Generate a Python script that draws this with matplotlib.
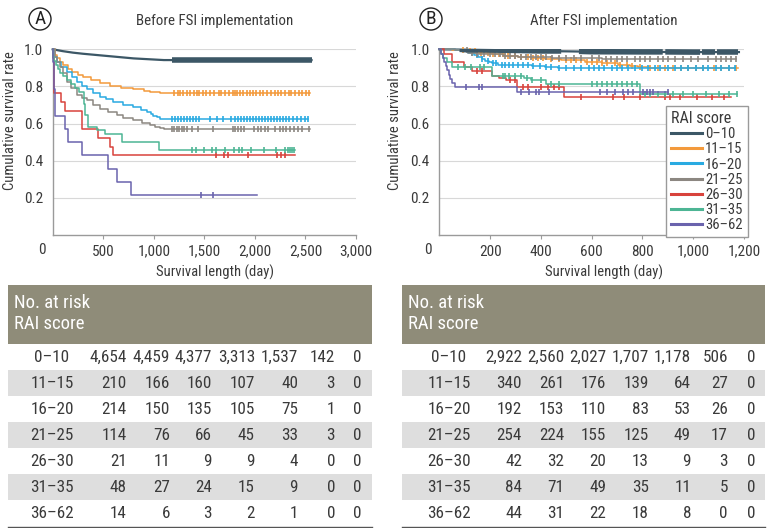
#!/usr/bin/env python3
"""
Kaplan-Meier curves by RAI score, before / after FSI implementation
"""

import matplotlib
matplotlib.use('Agg')
import matplotlib.pyplot as plt
from matplotlib import font_manager
from matplotlib.patches import Rectangle, Circle
from matplotlib.lines import Line2D

# narrow Helvetica-like face, first one that is installed
installed = {f.name for f in font_manager.fontManager.ttflist}
narrow = next((n for n in ['Liberation Sans Narrow', 'Roboto Condensed', 'Archivo Narrow', 'PT Sans Narrow',
                           'Fira Sans Condensed', 'IBM Plex Sans Condensed', 'Sofia Sans Condensed',
                           'Open Sans Condensed'] if n in installed), 'DejaVu Sans')
plt.rcParams['font.family'] = [narrow, 'DejaVu Sans']

# ---- data ----
groups = ['0–10', '11–15', '16–20', '21–25', '26–30', '31–35', '36–62']
colors = ['#3c5766', '#f39a3c', '#29aae1', '#8c8781', '#d8423c', '#4db594', '#6a63ad']

# Panel A: before FSI (time in days, survival)
a_t = [
    [0, 100, 200, 300, 400, 500, 600, 700, 800, 900, 1000, 1100, 2560],
    [0, 20, 40, 70, 105, 150, 188, 250, 303, 380, 468, 567, 680, 798, 900, 963, 1062, 1100, 2545],
    [0, 15, 40, 80, 138, 190, 237, 290, 336, 400, 468, 530, 600, 700, 798, 870, 930, 970, 996, 1029, 1060, 2530],
    [0, 20, 45, 72, 100, 138, 180, 237, 290, 336, 400, 468, 550, 633, 700, 798, 880, 963, 1010, 1062, 1100, 2545],
    [0, 5, 10, 16, 82, 125, 287, 445, 567, 600, 2397],
    [0, 5, 15, 30, 50, 75, 100, 140, 180, 220, 260, 306, 320, 350, 440, 520, 690, 1050, 2400],
    [0, 3, 8, 12, 18, 23, 120, 155, 287, 551, 640, 771, 2018],
]
a_s = [
    [1.0, 0.99, 0.982, 0.976, 0.971, 0.966, 0.961, 0.956, 0.951, 0.948, 0.945, 0.942, 0.942],
    [1.0, 0.97, 0.951, 0.93, 0.915, 0.895, 0.88, 0.862, 0.849, 0.832, 0.816, 0.80, 0.79, 0.784, 0.776, 0.771, 0.766, 0.762, 0.762],
    [1.0, 0.96, 0.933, 0.905, 0.88, 0.85, 0.825, 0.80, 0.784, 0.762, 0.744, 0.73, 0.717, 0.70, 0.687, 0.675, 0.663, 0.65, 0.64, 0.633, 0.627, 0.627],
    [1.0, 0.96, 0.93, 0.906, 0.87, 0.825, 0.79, 0.753, 0.738, 0.726, 0.70, 0.681, 0.662, 0.645, 0.63, 0.618, 0.604, 0.591, 0.584, 0.577, 0.572, 0.572],
    [1.0, 0.952, 0.857, 0.762, 0.714, 0.667, 0.571, 0.524, 0.476, 0.429, 0.429],
    [1.0, 0.958, 0.938, 0.917, 0.896, 0.875, 0.854, 0.833, 0.813, 0.792, 0.771, 0.708, 0.646, 0.583, 0.563, 0.542, 0.50, 0.458, 0.458],
    [1.0, 0.929, 0.857, 0.786, 0.714, 0.643, 0.571, 0.5, 0.429, 0.357, 0.286, 0.214, 0.214],
]
a_cens = [
    [],
    [1200, 1235, 1262, 1290, 1330, 1358, 1400, 1425, 1452, 1485, 1520, 1560, 1600, 1645, 1668, 1700, 1745, 1780, 1805,
     1822, 1850, 1885, 1920, 1948, 1985, 2012, 2050, 2082, 2120, 2160, 2195, 2230, 2262, 2300, 2335, 2360, 2400, 2432,
     2470, 2505, 2535],
    [1180, 1212, 1240, 1268, 1300, 1332, 1360, 1392, 1420, 1450, 1560, 1622, 1680, 1760, 1800, 1832, 1862, 1890, 1922,
     1950, 1982, 2010, 2042, 2070, 2102, 2130, 2160, 2192, 2220, 2250, 2282, 2310, 2342, 2380, 2420, 2460, 2500, 2530],
    [1180, 1200, 1225, 1250, 1275, 1300, 1325, 1380, 1440, 1590, 1780, 1800, 1830, 1860, 1890, 1990, 2030, 2060, 2100,
     2130, 2200, 2250, 2280, 2310, 2350, 2390, 2430, 2470, 2540],
    [1615, 1695, 1737, 1935, 2216, 2258, 2298],
    [1380, 1420, 1500, 1580, 1620, 1700, 1790, 1840, 1870, 1960, 2090, 2210, 2300, 2330, 2350, 2370, 2390],
    [1467, 1583],
]
# stretches where censor marks merge into a thick band (0-10 group)
a_dense = [(1180, 2560)]

# Panel B: after FSI
b_t = [
    [0, 100, 200, 300, 400, 500, 600, 800, 1000, 1180],
    [0, 50, 100, 150, 206, 260, 311, 360, 416, 480, 574, 640, 705, 750, 784, 830, 1175],
    [0, 60, 114, 135, 154, 170, 180, 195, 206, 232, 364, 416, 469, 1165],
    [0, 60, 114, 150, 180, 250, 311, 380, 442, 520, 574, 640, 705, 760, 1170],
    [0, 20, 49, 97, 129, 208, 236, 261, 306, 491, 1150],
    [0, 8, 15, 30, 50, 208, 334, 360, 420, 791, 1173],
    [0, 8, 14, 20, 26, 32, 38, 44, 50, 62, 306, 901],
]
b_s = [
    [1.0, 0.998, 0.996, 0.994, 0.991, 0.989, 0.987, 0.986, 0.985, 0.985],
    [1.0, 0.995, 0.99, 0.982, 0.973, 0.965, 0.957, 0.952, 0.946, 0.94, 0.933, 0.925, 0.915, 0.91, 0.906, 0.90, 0.90],
    [1.0, 0.995, 0.978, 0.97, 0.96, 0.95, 0.937, 0.93, 0.924, 0.917, 0.912, 0.906, 0.897, 0.897],
    [1.0, 0.995, 0.982, 0.977, 0.973, 0.966, 0.96, 0.957, 0.955, 0.953, 0.951, 0.949, 0.948, 0.947, 0.947],
    [1.0, 0.976, 0.929, 0.905, 0.881, 0.857, 0.845, 0.833, 0.798, 0.745, 0.745],
    [1.0, 0.976, 0.952, 0.929, 0.905, 0.857, 0.845, 0.833, 0.815, 0.758, 0.758],
    [1.0, 0.977, 0.955, 0.932, 0.909, 0.886, 0.864, 0.841, 0.818, 0.795, 0.772, 0.772],
]
b_cens = [
    [],
    [95, 120, 140, 165, 190, 210, 235, 250, 270, 300, 320, 350, 370, 390, 410, 440, 470, 500, 520, 540, 560, 580, 600,
     620, 640, 660, 690, 710, 740, 760, 790, 830, 860, 890, 920, 950, 980, 1010, 1040, 1080, 1110, 1140, 1170],
    [130, 150, 170, 190, 210, 225, 245, 260, 275, 290, 310, 330, 350, 370, 395, 420, 440, 470, 500, 530, 560, 590, 610,
     630, 650, 680, 700, 720, 745, 770, 800, 820, 850, 870, 900, 930, 950, 980, 1010, 1040, 1060, 1090, 1110, 1140, 1165],
    [110, 130, 150, 175, 200, 220, 240, 260, 280, 300, 320, 340, 360, 380, 400, 420, 445, 470, 500, 530, 560, 600, 630,
     655, 675, 700, 720, 740, 770, 790, 810, 830, 860, 880, 900, 930, 960, 990, 1020, 1060, 1090, 1110, 1130, 1150, 1170],
    [150, 170, 280, 300, 330, 350, 400, 430, 450, 470, 560, 686, 726, 791, 889, 909, 948, 1015, 1075, 1120],
    [75, 100, 125, 160, 175, 250, 260, 275, 300, 320, 345, 365, 400, 440, 470, 600, 620, 640, 660, 680, 700, 720, 740,
     760, 780, 810, 830, 860, 890, 920, 960, 1000, 1050, 1100, 1140, 1173],
    [105, 157, 169, 322, 354, 381, 393, 433, 633, 660, 692, 723, 743, 763, 803, 818, 830, 842, 901],
]
b_dense = [(80, 480), (550, 880), (890, 1027), (1035, 1087), (1093, 1175)]

# numbers at risk
risk_a = [
    ['4,654', '4,459', '4,377', '3,313', '1,537', '142', '0'],
    ['210', '166', '160', '107', '40', '3', '0'],
    ['214', '150', '135', '105', '75', '1', '0'],
    ['114', '76', '66', '45', '33', '3', '0'],
    ['21', '11', '9', '9', '4', '0', '0'],
    ['48', '27', '24', '15', '9', '0', '0'],
    ['14', '6', '3', '2', '1', '0', '0'],
]
risk_b = [
    ['2,922', '2,560', '2,027', '1,707', '1,178', '506', '0'],
    ['340', '261', '176', '139', '64', '27', '0'],
    ['192', '153', '110', '83', '53', '26', '0'],
    ['254', '224', '155', '125', '49', '17', '0'],
    ['42', '32', '20', '13', '9', '3', '0'],
    ['84', '71', '49', '35', '11', '5', '0'],
    ['44', '31', '22', '18', '8', '0', '0'],
]

W, H = 769, 528
fig = plt.figure(figsize=(W / 100, H / 100), dpi=100)

text_col = '#3a3a3a'
grid_col = '#d8d8d8'
spine_col = '#9a9a9a'


def style_axes(ax, xmax, xticks, xlabels):
    ax.set_xlim(0, xmax)
    ax.set_ylim(0, 1.0)
    ax.set_yticks([0.2, 0.4, 0.6, 0.8, 1.0])
    ax.set_yticklabels(['0.2', '0.4', '0.6', '0.8', '1.0'])
    ax.set_xticks(xticks)
    ax.set_xticklabels(xlabels)
    ax.grid(axis='y', color=grid_col, linewidth=0.8)
    ax.set_axisbelow(True)
    for s in ['top', 'right']:
        ax.spines[s].set_visible(False)
    for s in ['left', 'bottom']:
        ax.spines[s].set_color(spine_col)
        ax.spines[s].set_linewidth(1.0)
    ax.tick_params(axis='y', length=0, pad=7, labelsize=11, labelcolor=text_col)
    ax.tick_params(axis='x', length=3, color=spine_col, pad=4, labelsize=11, labelcolor=text_col)
    ax.set_ylabel('Cumulative survival rate', fontsize=10.5, color=text_col)
    ax.set_xlabel('Survival length (day)', fontsize=10.5, color=text_col)


def value_at(t, s, x):
    y = s[0]
    for tt, sv in zip(t, s):
        if tt <= x:
            y = sv
    return y


def draw_curves(ax, ts, ss, cens, dense):
    for i in range(len(groups)):
        t, s = ts[i], ss[i]
        if i == 0:
            ax.plot(t, s, color=colors[i], lw=1.6, clip_on=False, zorder=3 + i)
        else:
            ax.step(t, s, where='post', color=colors[i], lw=1.1, clip_on=False, zorder=3 + i)
        ys = [value_at(t, s, c) for c in cens[i]]
        ax.plot(cens[i], ys, ls='none', marker='|', ms=4.5, mew=1.2,
                color=colors[i], clip_on=False, zorder=3 + i)
    # dense censoring of the large 0-10 group shows as a thick band
    t0, s0 = ts[0], ss[0]
    for lo, hi in dense:
        xs = [lo] + [tt for tt in t0 if lo < tt < hi] + [hi]
        ax.plot(xs, [value_at(t0, s0, x) for x in xs], color=colors[0], lw=4.0,
                solid_capstyle='butt', zorder=10)


# ---- panel A ----
axA = fig.add_axes([52.7 / W, 1 - 235 / H, 303.3 / W, 185.7 / H])
style_axes(axA, 3000, [500, 1000, 1500, 2000, 2500, 3000],
           ['500', '1,000', '1,500', '2,000', '2,500', '3,000'])
draw_curves(axA, a_t, a_s, a_cens, a_dense)
axA.yaxis.set_label_coords(-0.118, 0.615)
axA.xaxis.set_label_coords(0.535, -0.16)

# ---- panel B ----
axB = fig.add_axes([439.3 / W, 1 - 235 / H, 304.7 / W, 185.7 / H])
style_axes(axB, 1200, [200, 400, 600, 800, 1000, 1200],
           ['200', '400', '600', '800', '1,000', '1,200'])
draw_curves(axB, b_t, b_s, b_cens, b_dense)
axB.yaxis.set_label_coords(-0.122, 0.615)
axB.xaxis.set_label_coords(0.539, -0.16)

handles = [Line2D([0], [0], color=c, lw=2.2) for c in colors]
leg = fig.legend(handles, groups, title='RAI score', loc='upper right',
                 bbox_to_anchor=(748 / W, 1 - 106 / H), borderaxespad=0, fontsize=10.5,
                 title_fontsize=11.5, handlelength=2.1, handletextpad=0.25,
                 labelspacing=0.08, borderpad=0.35, fancybox=False, framealpha=1,
                 edgecolor='#9a9a9a', alignment='left')
leg.get_frame().set_linewidth(1.0)
for tx in leg.get_texts():
    tx.set_color(text_col)
leg.get_title().set_color(text_col)

# ---- overlay in pixel coordinates: titles, panel letters, risk tables ----
ov = fig.add_axes([0, 0, 1, 1])
ov.set_xlim(0, W)
ov.set_ylim(H, 0)
ov.axis('off')

for cx, letter, title_x, title in [(40, 'A', 215, 'Before FSI implementation'),
                                   (431, 'B', 604, 'After FSI implementation')]:
    ov.add_patch(Circle((cx, 19), 11, fill=False, ec='#222222', lw=1.0))
    ov.text(cx, 19.5, letter, ha='center', va='center', fontsize=14, color='#222222')
    ov.text(title_x, 21, title, ha='center', va='center', fontsize=10.8, color=text_col)

# "0" origin labels
ov.text(41.7, 250, '0', ha='center', va='center', fontsize=11, color=text_col)
ov.text(428, 250, '0', ha='center', va='center', fontsize=11, color=text_col)

header_col = '#8f8c79'
band_col = '#dedede'


def draw_table(x0, x1, label_x, col_right, rows):
    ov.add_patch(Rectangle((x0, 284.7), x1 - x0, 343.5 - 284.7, color=header_col, lw=0))
    ov.text(x0 + 6, 303, 'No. at risk', ha='left', va='center', fontsize=13.5, color='white')
    ov.text(x0 + 6, 324, 'RAI score', ha='left', va='center', fontsize=13.5, color='white')
    for i, (g, vals) in enumerate(zip(groups, rows)):
        top = 344 + 26 * i
        if i % 2 == 1:
            ov.add_patch(Rectangle((x0, top), x1 - x0, 26, color=band_col, lw=0))
        yc = top + 13
        ov.text(label_x, yc, g, ha='center', va='center', fontsize=12.3, color=text_col)
        for xr, v in zip(col_right, vals):
            ov.text(xr, yc, v, ha='right', va='center', fontsize=12.3, color=text_col)
    ov.plot([x0, x1], [526.5, 526.5], color='#555555', lw=1.0)


draw_table(8, 372, 52, [127, 170, 212, 255, 298, 335, 362], risk_a)
draw_table(402, 765, 449, [522, 564, 606, 649, 691, 728, 755], risk_b)

plt.savefig('out.png', dpi=100)
